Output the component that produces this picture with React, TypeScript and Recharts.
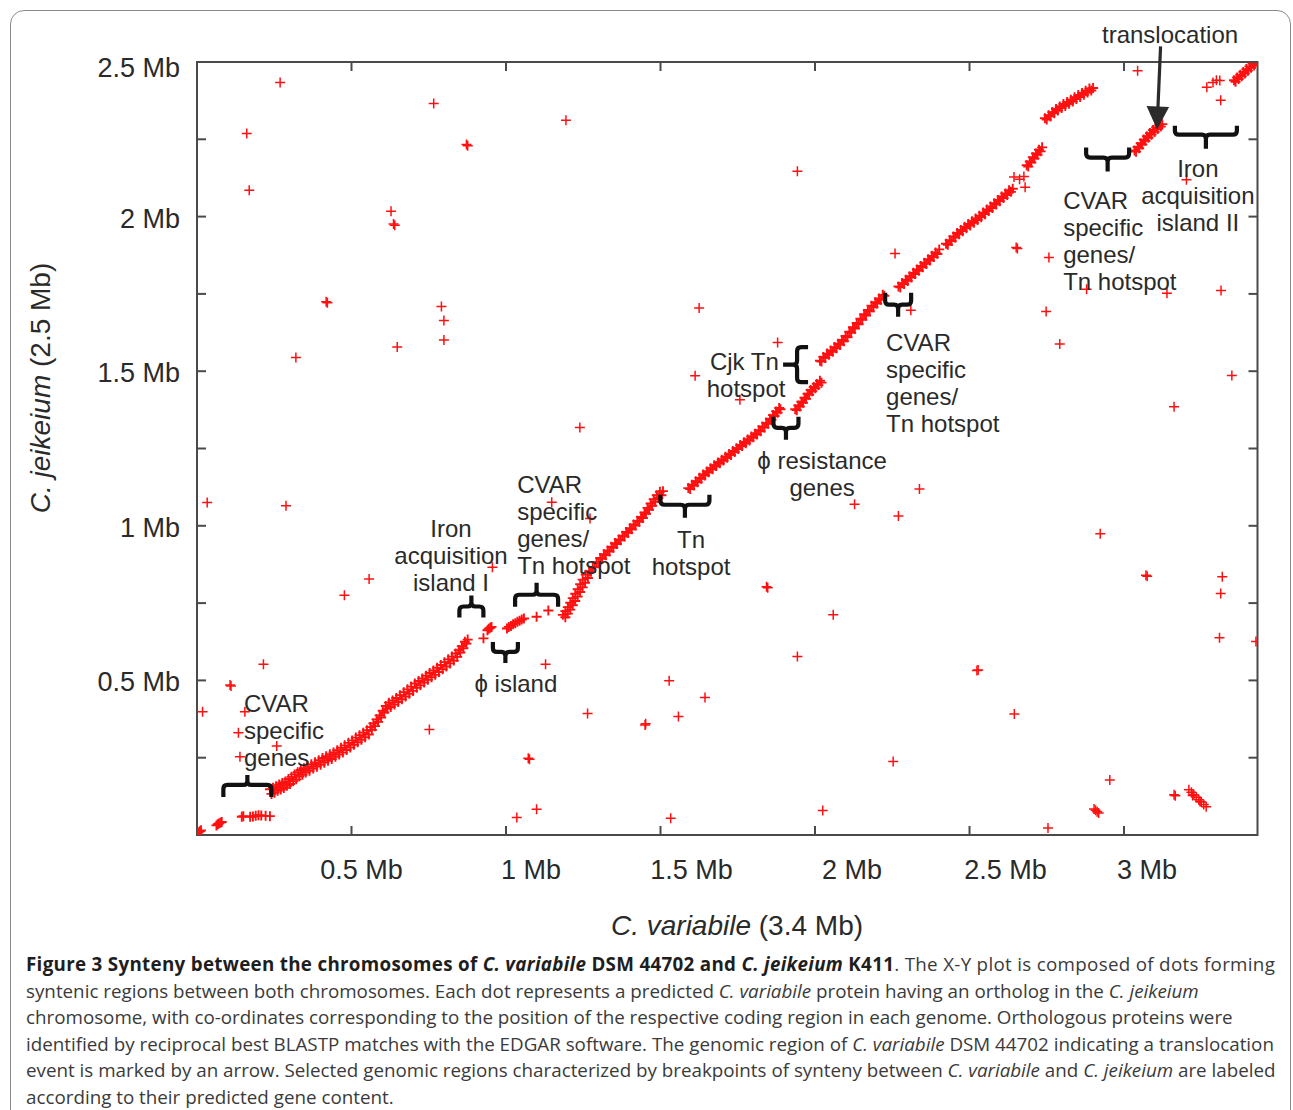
import React from 'react';
import { ScatterChart, Scatter, XAxis, YAxis, ReferenceDot, ReferenceArea } from 'recharts';

// ---------- axis ticks ----------
const xTicks = [0.5, 1, 1.5, 2, 2.5, 3];
const xTickLabels = ['0.5 Mb', '1 Mb', '1.5 Mb', '2 Mb', '2.5 Mb', '3 Mb'];
const yTicks = [0.25, 0.5, 0.75, 1, 1.25, 1.5, 1.75, 2, 2.25, 2.5];
const yTickLabels: Record<string, string> = { '0.5': '0.5 Mb', '1': '1 Mb', '1.5': '1.5 Mb', '2': '2 Mb', '2.5': '2.5 Mb' };

// ---------- syntenic band (C. variabile Mb, C. jeikeium Mb) ----------
const bandStart = [
  [0.000, 0.002], [0.004, 0.008], [0.009, 0.012], [0.013, 0.015],
  [0.063, 0.031], [0.067, 0.035], [0.071, 0.037], [0.076, 0.040], [0.080, 0.042],
  [0.145, 0.059], [0.150, 0.061], [0.172, 0.059], [0.181, 0.060], [0.190, 0.062],
  [0.199, 0.064], [0.208, 0.063], [0.222, 0.062], [0.236, 0.061],
];
const bandLow = [
  [0.236, 0.148], [0.241, 0.133], [0.246, 0.153], [0.251, 0.137], [0.256, 0.158], [0.261, 0.143],
  [0.266, 0.163], [0.271, 0.147], [0.276, 0.168], [0.281, 0.152], [0.286, 0.173], [0.291, 0.159],
  [0.296, 0.181], [0.301, 0.165], [0.306, 0.188], [0.311, 0.174], [0.316, 0.196], [0.321, 0.180],
  [0.326, 0.203], [0.331, 0.189], [0.336, 0.210], [0.341, 0.195], [0.346, 0.216], [0.352, 0.202],
  [0.358, 0.222], [0.364, 0.208], [0.370, 0.229], [0.376, 0.215], [0.382, 0.235], [0.388, 0.221],
  [0.394, 0.242], [0.400, 0.227], [0.406, 0.249], [0.412, 0.234], [0.418, 0.255], [0.424, 0.240],
  [0.430, 0.261], [0.436, 0.246], [0.442, 0.267], [0.448, 0.253], [0.454, 0.274], [0.460, 0.260],
  [0.466, 0.282], [0.472, 0.267], [0.478, 0.290], [0.484, 0.275], [0.490, 0.298], [0.496, 0.283],
  [0.502, 0.306], [0.508, 0.292], [0.514, 0.315], [0.520, 0.300], [0.526, 0.323], [0.532, 0.308],
  [0.538, 0.331], [0.544, 0.316], [0.550, 0.339], [0.556, 0.325], [0.561, 0.349], [0.566, 0.340],
  [0.571, 0.361], [0.576, 0.352], [0.581, 0.374], [0.586, 0.366], [0.591, 0.387], [0.596, 0.380],
  [0.601, 0.402], [0.606, 0.396], [0.611, 0.417], [0.616, 0.408], [0.621, 0.428], [0.627, 0.414],
  [0.633, 0.435], [0.639, 0.422], [0.645, 0.443], [0.651, 0.430], [0.657, 0.452], [0.663, 0.439],
  [0.669, 0.462], [0.675, 0.448], [0.681, 0.471], [0.687, 0.457], [0.693, 0.480], [0.699, 0.466],
  [0.705, 0.490], [0.711, 0.476], [0.717, 0.498], [0.723, 0.484], [0.729, 0.506], [0.735, 0.493],
  [0.741, 0.515], [0.747, 0.502], [0.753, 0.524], [0.759, 0.510], [0.765, 0.532], [0.771, 0.518],
  [0.777, 0.541], [0.783, 0.527], [0.789, 0.550], [0.795, 0.536], [0.801, 0.559], [0.807, 0.545],
  [0.813, 0.568], [0.819, 0.555], [0.825, 0.577], [0.831, 0.564], [0.837, 0.587], [0.842, 0.576],
  [0.847, 0.598], [0.852, 0.590], [0.857, 0.611], [0.862, 0.604], [0.867, 0.625], [0.872, 0.619],
  [0.876, 0.632],
];
const bandIsland = [
  [0.927, 0.636], [0.940, 0.662], [0.944, 0.667], [0.949, 0.670], [0.953, 0.673],
  [1.003, 0.668], [1.009, 0.673], [1.016, 0.676], [1.023, 0.682], [1.030, 0.685], [1.037, 0.690],
  [1.044, 0.693], [1.051, 0.697], [1.058, 0.700], [1.099, 0.706], [1.137, 0.726],
];
const bandMid = [
  [1.192, 0.704], [1.184, 0.712], [1.200, 0.716], [1.192, 0.724], [1.208, 0.729], [1.200, 0.737],
  [1.216, 0.743], [1.208, 0.751], [1.224, 0.757], [1.216, 0.766], [1.232, 0.771], [1.224, 0.780],
  [1.240, 0.786], [1.232, 0.795], [1.248, 0.801], [1.240, 0.811], [1.256, 0.816], [1.248, 0.826],
  [1.265, 0.831], [1.258, 0.842],
  [1.269, 0.852], [1.275, 0.851], [1.281, 0.867], [1.287, 0.866], [1.293, 0.882], [1.299, 0.880],
  [1.305, 0.896], [1.311, 0.893], [1.317, 0.908], [1.323, 0.905], [1.329, 0.920], [1.335, 0.917],
  [1.341, 0.932], [1.347, 0.929], [1.353, 0.944], [1.359, 0.941], [1.365, 0.956], [1.371, 0.953],
  [1.377, 0.968], [1.383, 0.965], [1.389, 0.980], [1.395, 0.977], [1.401, 0.992], [1.407, 0.989],
  [1.413, 1.004], [1.419, 1.001], [1.425, 1.016], [1.431, 1.013], [1.437, 1.029], [1.443, 1.025],
  [1.448, 1.043], [1.453, 1.039], [1.458, 1.058], [1.463, 1.052], [1.468, 1.072], [1.473, 1.065],
  [1.478, 1.086], [1.483, 1.078], [1.488, 1.099], [1.493, 1.090], [1.498, 1.110], [1.503, 1.099],
  [1.508, 1.112],
  [1.590, 1.122], [1.596, 1.119], [1.602, 1.133], [1.608, 1.130], [1.614, 1.144], [1.620, 1.141],
  [1.626, 1.155], [1.632, 1.152], [1.638, 1.166], [1.644, 1.163], [1.650, 1.176], [1.656, 1.173],
  [1.662, 1.186], [1.668, 1.183], [1.674, 1.196], [1.680, 1.193], [1.686, 1.205], [1.692, 1.202],
  [1.698, 1.214], [1.704, 1.211], [1.710, 1.223], [1.716, 1.220], [1.722, 1.232], [1.728, 1.229],
  [1.734, 1.242], [1.740, 1.239], [1.746, 1.251], [1.752, 1.248], [1.758, 1.261], [1.764, 1.258],
  [1.770, 1.270], [1.776, 1.267], [1.782, 1.279], [1.788, 1.276], [1.794, 1.289], [1.800, 1.286],
  [1.806, 1.298], [1.812, 1.295], [1.818, 1.309], [1.824, 1.306], [1.830, 1.321], [1.836, 1.318],
  [1.842, 1.333], [1.848, 1.330], [1.854, 1.346], [1.859, 1.343], [1.864, 1.358], [1.869, 1.355],
  [1.874, 1.370], [1.879, 1.366], [1.884, 1.381], [1.888, 1.377],
  [1.936, 1.377], [1.941, 1.374], [1.946, 1.389], [1.951, 1.386], [1.956, 1.401], [1.961, 1.398],
  [1.966, 1.414], [1.971, 1.411], [1.976, 1.427], [1.981, 1.424], [1.986, 1.439], [1.991, 1.435],
  [1.996, 1.449], [2.001, 1.445], [2.006, 1.459], [2.011, 1.455], [2.016, 1.469], [2.021, 1.463],
];
const bandUpper = [
  [2.016, 1.534], [2.021, 1.531], [2.027, 1.546], [2.033, 1.543], [2.039, 1.557], [2.045, 1.553],
  [2.051, 1.567], [2.057, 1.563], [2.063, 1.578], [2.069, 1.574], [2.075, 1.589], [2.081, 1.585],
  [2.087, 1.601], [2.093, 1.597], [2.099, 1.614], [2.105, 1.610], [2.111, 1.628], [2.117, 1.624],
  [2.123, 1.642], [2.129, 1.638], [2.135, 1.656], [2.141, 1.652], [2.147, 1.670], [2.153, 1.666],
  [2.159, 1.684], [2.165, 1.680], [2.171, 1.698], [2.177, 1.694], [2.183, 1.712], [2.189, 1.707],
  [2.195, 1.723], [2.201, 1.719], [2.207, 1.735], [2.213, 1.731], [2.219, 1.747], [2.224, 1.744],
  [2.270, 1.774], [2.276, 1.771], [2.282, 1.785], [2.288, 1.782], [2.294, 1.796], [2.300, 1.792],
  [2.306, 1.807], [2.312, 1.803], [2.318, 1.818], [2.324, 1.814], [2.330, 1.829], [2.336, 1.825],
  [2.342, 1.840], [2.348, 1.836], [2.354, 1.851], [2.360, 1.847], [2.366, 1.862], [2.372, 1.858],
  [2.378, 1.873], [2.384, 1.869], [2.390, 1.884], [2.396, 1.879], [2.402, 1.894],
  [2.424, 1.912], [2.430, 1.909], [2.436, 1.924], [2.442, 1.921], [2.448, 1.936], [2.454, 1.932],
  [2.460, 1.947], [2.466, 1.943], [2.472, 1.957], [2.478, 1.953], [2.484, 1.967], [2.490, 1.962],
  [2.496, 1.976], [2.502, 1.971], [2.508, 1.985], [2.514, 1.980], [2.520, 1.994], [2.526, 1.989],
  [2.532, 2.003], [2.538, 1.998], [2.544, 2.013], [2.550, 2.008], [2.556, 2.023], [2.562, 2.018],
  [2.568, 2.033], [2.574, 2.028], [2.580, 2.043], [2.586, 2.039], [2.592, 2.054], [2.598, 2.050],
  [2.604, 2.065], [2.610, 2.060], [2.616, 2.075], [2.622, 2.070], [2.628, 2.085], [2.634, 2.080],
  [2.640, 2.090],
  [2.685, 2.166], [2.690, 2.162], [2.695, 2.178], [2.700, 2.175], [2.705, 2.192], [2.710, 2.188],
  [2.715, 2.204], [2.720, 2.200], [2.725, 2.216], [2.730, 2.211], [2.735, 2.224],
  [2.744, 2.318], [2.750, 2.314], [2.756, 2.328], [2.762, 2.324], [2.768, 2.338], [2.774, 2.334],
  [2.780, 2.348], [2.786, 2.343], [2.792, 2.356], [2.798, 2.351], [2.804, 2.364], [2.810, 2.358],
  [2.816, 2.371], [2.822, 2.365], [2.828, 2.378], [2.834, 2.372], [2.840, 2.386], [2.846, 2.380],
  [2.852, 2.393], [2.858, 2.387], [2.864, 2.400], [2.870, 2.394], [2.876, 2.407], [2.882, 2.401],
  [2.888, 2.414], [2.894, 2.408], [2.900, 2.416],
];
const bandTranslocated = [
  [3.034, 2.214], [3.039, 2.210], [3.044, 2.225], [3.049, 2.221], [3.054, 2.237], [3.059, 2.233],
  [3.064, 2.249], [3.069, 2.245], [3.074, 2.260], [3.079, 2.255], [3.084, 2.270], [3.089, 2.265],
  [3.094, 2.280], [3.099, 2.274], [3.104, 2.289], [3.109, 2.283], [3.114, 2.297], [3.119, 2.291],
  [3.124, 2.299],
];
const bandEnd = [
  [3.356, 2.441], [3.361, 2.436], [3.366, 2.450], [3.371, 2.445], [3.376, 2.459], [3.381, 2.454],
  [3.386, 2.468], [3.391, 2.463], [3.396, 2.477], [3.401, 2.472], [3.406, 2.486], [3.411, 2.481],
  [3.416, 2.495], [3.421, 2.489], [3.426, 2.501], [3.431, 2.503],
];

// ---------- isolated orthologs ----------
const scattered = [
  [0.269, 2.434], [0.161, 2.269], [0.169, 2.085], [0.766, 2.366], [0.872, 2.233], [0.876, 2.229],
  [1.194, 2.312], [0.628, 2.017], [0.636, 1.976], [0.640, 1.972], [0.418, 1.725], [0.422, 1.721],
  [0.320, 1.544], [0.648, 1.578], [0.791, 1.709], [0.799, 1.664], [0.799, 1.601], [1.625, 1.704],
  [1.612, 1.485], [1.879, 1.593], [1.757, 1.408], [1.239, 1.318], [1.943, 2.147],
  [0.033, 1.075], [0.288, 1.065], [0.477, 0.775], [0.557, 0.828], [0.215, 0.552], [0.107, 0.485],
  [0.110, 0.482], [0.018, 0.399], [0.155, 0.399], [0.134, 0.331], [0.258, 0.288], [0.139, 0.253],
  [0.752, 0.341], [0.956, 0.866], [1.148, 1.076], [1.272, 1.024], [1.128, 0.552], [1.072, 0.248],
  [1.076, 0.245], [1.035, 0.057], [1.099, 0.083], [1.264, 0.393], [1.450, 0.356], [1.452, 0.360],
  [1.558, 0.383], [1.528, 0.499], [1.644, 0.445], [1.533, 0.054], [1.843, 0.803], [1.847, 0.800],
  [2.059, 0.712], [1.943, 0.577], [2.025, 0.079], [2.253, 0.238],
  [2.128, 1.070], [2.270, 1.032], [2.338, 1.119], [2.524, 0.532], [2.528, 0.534], [2.645, 0.391],
  [2.923, 0.974], [3.071, 0.840], [3.075, 0.837], [3.318, 0.835], [3.313, 0.781], [3.309, 0.638],
  [3.427, 0.626], [3.349, 1.486], [3.162, 1.385], [2.792, 1.588], [2.748, 1.693], [2.310, 1.697],
  [2.259, 1.881], [2.655, 1.897], [2.651, 1.900], [2.757, 1.868], [2.879, 1.765], [3.139, 1.752],
  [3.314, 1.761], [3.202, 2.119], [3.044, 2.472], [3.313, 2.376], [2.954, 0.178], [3.162, 0.130],
  [3.166, 0.127], [2.754, 0.023],
  [2.644, 2.128], [2.662, 2.121], [2.676, 2.130], [2.680, 2.095],
  [3.268, 2.418], [3.288, 2.434], [3.299, 2.441], [3.310, 2.440],
  [3.210, 0.146], [3.218, 0.138], [3.222, 0.128], [3.226, 0.130], [3.234, 0.122], [3.242, 0.114],
  [3.246, 0.108], [3.250, 0.107], [3.258, 0.099], [3.266, 0.091],
  [2.903, 0.084], [2.908, 0.080], [2.913, 0.075], [2.918, 0.071],
];

// ---------- annotations (data coordinates) ----------
const braces = [
  { x: 0.163, y: 0.162, dir: 'up', half: 24, end: 12, tip: 10 },
  { x: 0.888, y: 0.739, dir: 'up', half: 12, end: 11, tip: 11 },
  { x: 0.998, y: 0.592, dir: 'down', half: 12.5, end: 10, tip: 11 },
  { x: 1.099, y: 0.777, dir: 'up', half: 21.5, end: 12, tip: 12 },
  { x: 1.579, y: 1.068, dir: 'down', half: 24.5, end: 10, tip: 13 },
  { x: 1.942, y: 1.521, dir: 'left', half: 17.5, end: 11, tip: 14 },
  { x: 1.906, y: 1.317, dir: 'down', half: 12.5, end: 11, tip: 12 },
  { x: 2.269, y: 1.715, dir: 'down', half: 13, end: 12, tip: 12 },
  { x: 2.947, y: 2.191, dir: 'down', half: 21.5, end: 10, tip: 14 },
  { x: 3.265, y: 2.265, dir: 'down', half: 31, end: 9, tip: 14 },
];
const notes = [
  { x: 0.152, y: 0.424, anchor: 'start', lines: ['CVAR', 'specific', 'genes'] },
  { x: 0.822, y: 0.990, anchor: 'middle', lines: ['Iron', 'acquisition', 'island I'] },
  { x: 1.032, y: 0.489, anchor: 'middle', lines: ['ϕ island'] },
  { x: 1.036, y: 1.133, anchor: 'start', lines: ['CVAR', 'specific', 'genes/', 'Tn hotspot'] },
  { x: 1.599, y: 0.955, anchor: 'middle', lines: ['Tn', 'hotspot'] },
  { x: 1.883, y: 1.531, anchor: 'end', lines: ['Cjk Tn'] },
  { x: 1.777, y: 1.443, anchor: 'middle', lines: ['hotspot'] },
  { x: 2.023, y: 1.210, anchor: 'middle', lines: ['ϕ resistance', 'genes'] },
  { x: 2.230, y: 1.592, anchor: 'start', lines: ['CVAR', 'specific', 'genes/', 'Tn hotspot'] },
  { x: 2.803, y: 2.052, anchor: 'start', lines: ['CVAR', 'specific', 'genes/', 'Tn hotspot'] },
  { x: 3.239, y: 2.155, anchor: 'middle', lines: ['Iron', 'acquisition', 'island II'] },
  { x: 3.149, y: 2.589, anchor: 'middle', lines: ['translocation'] },
];
const arrowTip = { x: 3.107, y: 2.282 };

// ---------- layout constants ----------
const X_MAX = 3.432;
const Y_MAX = 2.5;
const CHART_W = 1293;
const CHART_H = 950;
const Y_AXIS_W = 60;
const X_AXIS_H = 40;
const MARGIN = { top: 62, right: 35.5, bottom: 115 - X_AXIS_H, left: 197 - Y_AXIS_W };
const PLOT_LEFT = 197;
const PLOT_TOP = 62;
const PLOT_W = CHART_W - PLOT_LEFT - MARGIN.right;
const PLOT_H = CHART_H - PLOT_TOP - 115;
const FRAME = '#4a4a4a';
const TXT = '#2a2a2a';
const SANS = '"Liberation Sans", Arial, Helvetica, sans-serif';
const xLabelShift = [10, 25, 31, 37, 36, 23];

const toPts = (arr: number[][]) => arr.map(([x, y]) => ({ x, y }));
const bandPoints = [
  ...toPts(bandStart), ...toPts(bandLow), ...toPts(bandIsland), ...toPts(bandMid),
  ...toPts(bandUpper), ...toPts(bandTranslocated), ...toPts(bandEnd),
];
const scatterPoints = toPts(scattered);

const Plus = (props: any) => {
  const { cx, cy, sw } = props;
  if (cx == null || cy == null) return null;
  return (
    <path d={`M${cx - 5},${cy}H${cx + 5}M${cx},${cy - 5}V${cy + 5}`} stroke="#ff1010" strokeWidth={sw || 1.5} fill="none" />
  );
};

const XTick = (props: any) => {
  const { x, payload } = props;
  const y = PLOT_TOP + PLOT_H;
  const i = xTicks.indexOf(payload.value);
  return (
    <g>
      <line x1={x} x2={x} y1={y} y2={y - 9} stroke={FRAME} strokeWidth={2} />
      <line x1={x} x2={x} y1={PLOT_TOP} y2={PLOT_TOP + 9} stroke={FRAME} strokeWidth={2} />
      <text x={x + (xLabelShift[i] || 0)} y={y + 44} textAnchor="middle" fontSize={27} fontFamily={SANS} fill={TXT}>
        {xTickLabels[i]}
      </text>
    </g>
  );
};

const YTick = (props: any) => {
  const { y, payload } = props;
  const x = PLOT_LEFT;
  const label = yTickLabels[String(payload.value)];
  return (
    <g>
      <line x1={x} x2={x + 9} y1={y} y2={y} stroke={FRAME} strokeWidth={2} />
      <line x1={x + PLOT_W} x2={x + PLOT_W - 9} y1={y} y2={y} stroke={FRAME} strokeWidth={2} />
      {label && (
        <text x={x - 17} y={y + (payload.value === 2.5 ? 15 : 11)} textAnchor="end" fontSize={27} fontFamily={SANS} fill={TXT}>
          {label}
        </text>
      )}
    </g>
  );
};

const XTitle = () => {
  const cx = PLOT_LEFT + 540;
  const cy = PLOT_TOP + PLOT_H + 100;
  return (
    <text x={cx} y={cy} textAnchor="middle" fontSize={28} fontFamily={SANS} fill={TXT}>
      <tspan fontStyle="italic">C. variabile</tspan>
      <tspan> (3.4 Mb)</tspan>
    </text>
  );
};

const YTitle = () => {
  const cx = PLOT_LEFT - 157;
  const cy = PLOT_TOP + 326;
  return (
    <text x={cx} y={cy} transform={`rotate(-90, ${cx}, ${cy})`} dy={10} textAnchor="middle" fontSize={28} fontFamily={SANS} fill={TXT}>
      <tspan fontStyle="italic">C. jeikeium</tspan>
      <tspan> (2.5 Mb)</tspan>
    </text>
  );
};

const Brace = ({ cx, cy, dir, half, end, tip }: any) => {
  if (cx == null || cy == null) return null;
  const r = 4;
  let d = '';
  if (dir === 'up' || dir === 'down') {
    const s = dir === 'up' ? 1 : -1;
    d = `M${cx - half},${cy + s * end} L${cx - half},${cy + s * r} Q${cx - half},${cy} ${cx - half + r},${cy}` +
      ` L${cx - r},${cy} Q${cx},${cy} ${cx},${cy - s * r} L${cx},${cy - s * tip}` +
      ` M${cx},${cy - s * r} Q${cx},${cy} ${cx + r},${cy} L${cx + half - r},${cy}` +
      ` Q${cx + half},${cy} ${cx + half},${cy + s * r} L${cx + half},${cy + s * end}`;
  } else {
    d = `M${cx + end},${cy - half} L${cx + r},${cy - half} Q${cx},${cy - half} ${cx},${cy - half + r}` +
      ` L${cx},${cy - r} Q${cx},${cy} ${cx - r},${cy} L${cx - tip},${cy}` +
      ` M${cx - r},${cy} Q${cx},${cy} ${cx},${cy + r} L${cx},${cy + half - r}` +
      ` Q${cx},${cy + half} ${cx + r},${cy + half} L${cx + end},${cy + half}`;
  }
  return <path d={d} stroke="#111" strokeWidth={4.2} fill="none" strokeLinejoin="round" />;
};

const Note = ({ cx, cy, anchor, lines }: any) => {
  if (cx == null || cy == null) return null;
  return (
    <g>
      {lines.map((l: string, i: number) => (
        <text key={i} x={cx} y={cy + i * 27 + 8.5} textAnchor={anchor} fontSize={24} fontFamily={SANS} fill={TXT}>
          {l}
        </text>
      ))}
    </g>
  );
};

const Arrow = ({ cx, cy }: any) => {
  if (cx == null || cy == null) return null;
  return (
    <g>
      <line x1={cx + 3.5} y1={cy - 83} x2={cx + 0.8} y2={cy - 20} stroke="#2b2b2b" strokeWidth={3.2} />
      <polygon points={`${cx},${cy} ${cx - 10.5},${cy - 23.5} ${cx + 12},${cy - 22.5}`} fill="#2b2b2b" />
    </g>
  );
};

const capStyle: React.CSSProperties = { whiteSpace: 'nowrap', height: 26.6 };

export default function App() {
  return (
    <div style={{ position: 'relative', width: 1293, height: 1110, overflow: 'hidden', background: '#fff' }}>
      <style>{`html,body{margin:0;padding:0;overflow:hidden;background:#fff}`}</style>
      <div
        style={{
          position: 'absolute', left: 10, top: 10, width: 1281, height: 1140,
          border: '1.5px solid #8a8a8a', borderRadius: 14, boxSizing: 'border-box',
        }}
      />
      <div style={{ position: 'absolute', left: 0, top: 0 }}>
        <ScatterChart width={CHART_W} height={CHART_H} margin={MARGIN}>
          <XAxis
            type="number" dataKey="x" domain={[0, X_MAX]} ticks={xTicks} interval={0}
            allowDataOverflow tick={<XTick />} tickLine={false} tickSize={0} tickMargin={0}
            axisLine={false} height={X_AXIS_H} label={<XTitle />}
          />
          <YAxis
            type="number" dataKey="y" domain={[0, Y_MAX]} ticks={yTicks} interval={0}
            allowDataOverflow tick={<YTick />} tickLine={false} tickSize={0} tickMargin={0}
            axisLine={false} width={Y_AXIS_W} label={<YTitle />}
          />
          <ReferenceArea x1={0} x2={X_MAX} y1={0} y2={Y_MAX} fill="none" fillOpacity={0} stroke={FRAME} strokeWidth={2} ifOverflow="visible" />
          <Scatter name="syntenic" data={bandPoints} shape={(p: any) => <Plus {...p} sw={1.9} />} isAnimationActive={false} />
          <Scatter name="isolated" data={scatterPoints} shape={(p: any) => <Plus {...p} sw={1.5} />} isAnimationActive={false} />
          {braces.map((b, i) => (
            <ReferenceDot key={`b${i}`} x={b.x} y={b.y} r={0} ifOverflow="visible"
              shape={(p: any) => <Brace cx={p.cx} cy={p.cy} dir={b.dir} half={b.half} end={b.end} tip={b.tip} />} />
          ))}
          {notes.map((n, i) => (
            <ReferenceDot key={`n${i}`} x={n.x} y={n.y} r={0} ifOverflow="visible"
              shape={(p: any) => <Note cx={p.cx} cy={p.cy} anchor={n.anchor} lines={n.lines} />} />
          ))}
          <ReferenceDot x={arrowTip.x} y={arrowTip.y} r={0} ifOverflow="visible" shape={(p: any) => <Arrow cx={p.cx} cy={p.cy} />} />
        </ScatterChart>
      </div>
      <div
        style={{
          position: 'absolute', left: 26, top: 951, fontFamily: '"Open Sans", "Noto Sans", sans-serif',
          fontSize: 18.8, lineHeight: '26.6px', color: '#3a3a3a',
        }}
      >
        <div style={{ ...capStyle, letterSpacing: 0.3 }}>
          <b style={{ color: '#1e1e1e' }}>
            Figure 3 Synteny between the chromosomes of <i>C. variabile</i> DSM 44702 and <i>C. jeikeium</i> K411
          </b>
          . The X-Y plot is composed of dots forming
        </div>
        <div style={capStyle}>
          syntenic regions between both chromosomes. Each dot represents a predicted <i>C. variabile</i> protein having an ortholog in the <i>C. jeikeium</i>
        </div>
        <div style={capStyle}>
          chromosome, with co-ordinates corresponding to the position of the respective coding region in each genome. Orthologous proteins were
        </div>
        <div style={capStyle}>
          identified by reciprocal best BLASTP matches with the EDGAR software. The genomic region of <i>C. variabile</i> DSM 44702 indicating a translocation
        </div>
        <div style={capStyle}>
          event is marked by an arrow. Selected genomic regions characterized by breakpoints of synteny between <i>C. variabile</i> and <i>C. jeikeium</i> are labeled
        </div>
        <div style={capStyle}>according to their predicted gene content.</div>
      </div>
    </div>
  );
}
